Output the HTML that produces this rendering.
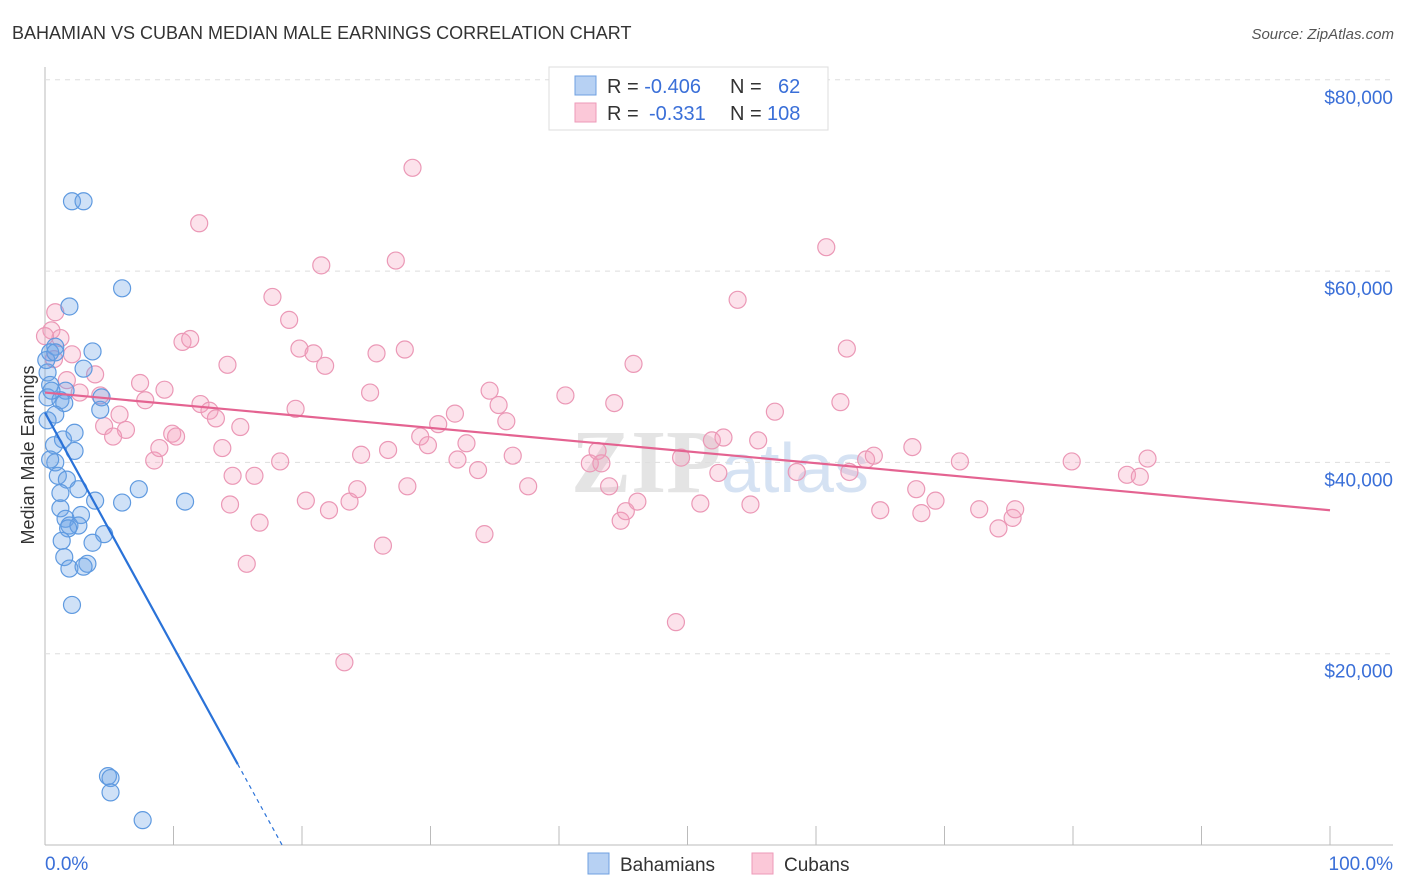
<!DOCTYPE html>
<html><head><meta charset="utf-8"><style>
body{margin:0;background:#fff;font-family:"Liberation Sans",sans-serif;}
svg{display:block}
</style></head><body>
<svg id="c" width="1406" height="892" xmlns="http://www.w3.org/2000/svg">
<text x="12" y="39" font-size="18" fill="#333">BAHAMIAN VS CUBAN MEDIAN MALE EARNINGS CORRELATION CHART</text>
<text x="1394" y="39" font-size="15" fill="#555" font-style="italic" text-anchor="end">Source: ZipAtlas.com</text>
<text x="720" y="492" font-size="90" fill="#e4e4e4" text-anchor="middle" font-weight="bold" font-family="Liberation Serif,serif">ZIP<tspan font-family="Liberation Sans,sans-serif" font-weight="normal" fill="#d5e2f3" font-size="70">atlas</tspan></text>
<g id="grid"></g><g id="pts"></g><g id="lines"></g>
<text transform="translate(34,455) rotate(-90)" font-size="18" fill="#333" text-anchor="middle">Median Male Earnings</text>
<text x="45" y="870" font-size="19" fill="#3a6fd8">0.0%</text>
<text x="1393" y="870" font-size="19" fill="#3a6fd8" text-anchor="end">100.0%</text>
<g>
<rect x="549" y="67" width="279" height="63" fill="#fff" stroke="#ddd"/>
<rect x="575" y="76" width="21" height="19" fill="#b7d1f3" stroke="#6fa0e0"/>
<rect x="575" y="103" width="21" height="19" fill="#fbc8d8" stroke="#ee9ab8"/>
<text x="607" y="93" font-size="20" fill="#333">R = <tspan fill="#3a6fd8">-0.406</tspan><tspan x="730">N = </tspan><tspan x="778" fill="#3a6fd8">62</tspan></text>
<text x="607" y="120" font-size="20" fill="#333">R = <tspan x="649" fill="#3a6fd8">-0.331</tspan><tspan x="730">N = </tspan><tspan x="767" fill="#3a6fd8">108</tspan></text>
</g>
<g><rect x="588" y="853" width="21" height="21" fill="#b7d1f3" stroke="#6fa0e0"/><text x="620" y="871" font-size="19" fill="#333">Bahamians</text></g>
<g><rect x="752" y="853" width="21" height="21" fill="#fbc8d8" stroke="#ee9ab8"/><text x="784" y="871" font-size="19" fill="#333">Cubans</text></g>
</svg>
<script>
const yTicks=[20000,40000,60000,80000];
const yTickLabels=["$20,000","$40,000","$60,000","$80,000"];
const bahX=[2.1,3.0,1.9,6.0,3.7,0.8,0.4,3.0,0.2,0.4,1.6,0.2,1.2,1.5,4.3,4.4,0.8,1.4,2.3,0.7,2.3,0.8,1.0,1.7,2.6,1.2,7.3,10.9,6.0,3.9,1.2,2.8,1.6,1.9,2.6,1.8,4.6,1.3,3.7,1.5,3.3,1.9,3.0,2.1,4.9,5.1,5.1,7.6,0.2,0.4,0.1,0.5,0.8];
const bahY=[67.3,67.3,56.3,58.2,51.6,52.1,51.5,49.8,49.4,48.1,47.5,46.8,46.5,46.2,45.5,46.8,45.0,42.4,43.1,41.8,41.2,40.0,38.6,38.2,37.2,36.8,37.2,35.9,35.8,36.0,35.2,34.5,34.1,33.4,33.4,33.1,32.5,31.8,31.6,30.1,29.4,28.9,29.1,25.1,7.2,7.0,5.5,2.6,44.4,40.3,50.7,47.5,51.5];
const cubX=[0.8,0.5,1.2,2.1,0.7,3.9,1.7,2.7,4.3,7.4,5.8,4.6,6.3,5.3,9.3,7.8,8.5,8.9,9.9,10.2,10.7,11.3,12.0,12.1,12.8,13.3,13.8,14.2,15.2,14.4,14.6,15.7,16.3,16.7,17.7,18.3,19.0,19.5,19.8,20.3,20.9,21.5,21.8,22.1,23.3,23.7,24.3,24.6,25.3,25.8,26.3,26.7,27.3,28.0,28.2,28.6,29.2,29.8,30.6,31.9,32.1,32.8,33.7,34.2,34.6,35.3,35.9,36.4,37.6,40.5,42.4,43.0,43.3,43.9,44.3,44.8,45.2,45.8,46.1,49.1,49.5,51.0,51.9,52.4,53.9,52.8,54.9,55.5,56.8,58.5,60.8,62.4,61.9,62.6,63.9,64.5,65.0,67.5,67.8,68.2,69.3,71.2,72.7,74.2,75.3,75.5,79.9,84.2,85.2,85.8,0.0];
const cubY=[55.7,53.8,53.0,51.3,50.8,49.2,48.6,47.3,47.0,48.3,45.0,43.8,43.4,42.7,47.6,46.5,40.2,41.5,43.0,42.7,52.6,52.9,65.0,46.1,45.4,44.6,41.5,50.2,43.7,35.6,38.6,29.4,38.6,33.7,57.3,40.1,54.9,45.6,51.9,36.0,51.4,60.6,50.1,35.0,19.1,35.9,37.2,40.8,47.3,51.4,31.3,41.3,61.1,51.8,37.5,70.8,42.7,41.8,44.0,45.1,40.3,42.0,39.2,32.5,47.5,46.0,44.3,40.7,37.5,47.0,39.9,41.2,39.9,37.5,46.2,33.9,34.9,50.3,35.9,23.3,40.5,35.7,42.3,38.9,57.0,42.6,35.6,42.3,45.3,39.0,62.5,51.9,46.3,39.0,40.3,40.7,35.0,41.6,37.2,34.7,36.0,40.1,35.1,33.1,34.2,35.1,40.1,38.7,38.5,40.4,53.2];
const bahLine=[45.2,-2.45];
const cubLine=[47.3,-0.123];
const X0=45,X1=1330,Y0=845,PX=191.3/20000;
const sx=v=>X0+(X1-X0)*v/100, sy=v=>Y0-v*PX;
const NS="http://www.w3.org/2000/svg";
function mk(p,t,a){const e=document.createElementNS(NS,t);for(const k in a)e.setAttribute(k,a[k]);p.appendChild(e);return e;}
const grid=document.getElementById('grid');
mk(grid,'line',{x1:45,y1:67,x2:45,y2:845,stroke:'#bbb'});
mk(grid,'line',{x1:45,y1:845,x2:1393,y2:845,stroke:'#bbb'});
for(let i=1;i<=10;i++){const t=mk(grid,'line',{x1:sx(i*10),x2:sx(i*10),y1:826,y2:845,stroke:'#bbb'});

}
yTicks.forEach((v,i)=>{const g=mk(grid,'line',{x1:45,x2:1393,y1:sy(v),y2:sy(v),stroke:'#ddd','stroke-dasharray':'5,5'});


const t=mk(grid,'text',{x:1393,y:sy(v)+24,'font-size':19,fill:'#3a6fd8','text-anchor':'end'});t.textContent=yTickLabels[i];

});
const pts=document.getElementById('pts');
cubX.forEach((x,i)=>{const c=mk(pts,'circle',{cx:sx(x),cy:sy(cubY[i]*1000),r:8.5,fill:'rgba(246,160,190,0.3)',stroke:'#eb98b6','stroke-width':1.2});

});
bahX.forEach((x,i)=>{const c=mk(pts,'circle',{cx:sx(x),cy:sy(bahY[i]*1000),r:8.5,fill:'rgba(110,165,230,0.33)',stroke:'#5f9ae0','stroke-width':1.2});

});
const L=document.getElementById('lines');
const xz=-bahLine[0]/bahLine[1];
let l=mk(L,'line',{x1:sx(0),y1:sy(bahLine[0]*1000),x2:sx(15),y2:sy((bahLine[0]+bahLine[1]*15)*1000),stroke:'#2a72d8','stroke-width':2.2});


l=mk(L,'line',{x1:sx(15),y1:sy((bahLine[0]+bahLine[1]*15)*1000),x2:sx(xz),y2:sy(0),stroke:'#2a72d8','stroke-width':1.2,'stroke-dasharray':'4,4'});


l=mk(L,'line',{x1:sx(0),y1:sy(cubLine[0]*1000),x2:sx(100),y2:sy((cubLine[0]+cubLine[1]*100)*1000),stroke:'#e46391','stroke-width':2.2});


</script>
</body></html>
